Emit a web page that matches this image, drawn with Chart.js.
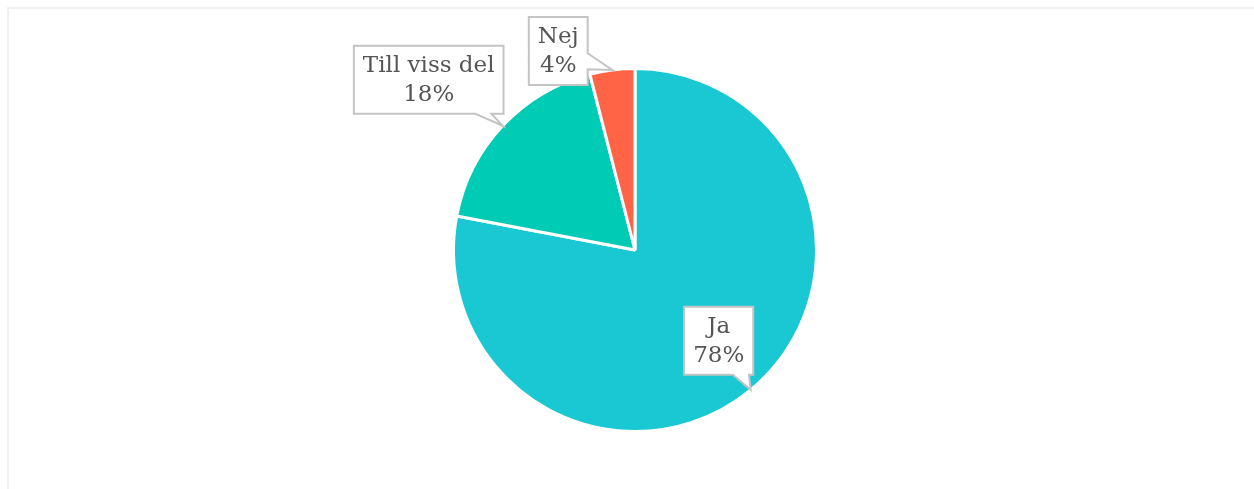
<!DOCTYPE html>
<html lang="sv">
<head>
  <meta charset="UTF-8">
  <title>Ja / Till viss del / Nej</title>
  <script src="https://cdn.jsdelivr.net/npm/chart.js"></script>
  <style>
    body { margin: 0; background: #fff; overflow: hidden; }
    #frame { position: absolute; left: 7px; top: 7px; width: 1400px; height: 700px; border: 2px solid #efefef; }
    #pieChart { position: absolute; left: 0; top: 0; }
  </style>
</head>
<body>

  <div id="frame"></div>
  <canvas id="pieChart" width="1254" height="489"></canvas>

  <script>
    // svar och andelar (%)
    const answers = ['Ja', 'Till viss del', 'Nej'];
    const shares = [78, 18, 4];
    const sliceColors = ['#1ac8d3', '#00ccb6', '#ff6446'];

    // var etiketten hamnar i förhållande till spetsen på bitens kant
    const calloutShift = [[-32, -49], [-74, -46], [-54, -19]];

    const calloutPlugin = {
      id: 'callouts',
      afterDatasetsDraw(chart) {
        const ctx = chart.ctx;
        const meta = chart.getDatasetMeta(0);
        ctx.save();
        ctx.font = '23px "DejaVu Serif"';
        meta.data.forEach((arc, i) => {
          const p = arc.getProps(['x', 'y', 'startAngle', 'endAngle', 'outerRadius'], true);
          const mid = (p.startAngle + p.endAngle) / 2;
          const tipX = p.x + Math.cos(mid) * p.outerRadius;
          const tipY = p.y + Math.sin(mid) * p.outerRadius;
          const cx = tipX + calloutShift[i][0];
          const cy = tipY + calloutShift[i][1];

          const lines = [chart.data.labels[i], chart.data.datasets[0].data[i] + '%'];
          const w = Math.max(...lines.map(t => ctx.measureText(t).width)) + 18;
          const h = 68;
          const l = cx - w / 2, r = cx + w / 2, t = cy - h / 2, b = cy + h / 2;

          // vilken kant pekaren går ut från
          const dx = tipX - cx, dy = tipY - cy;
          const tx = dx !== 0 ? (w / 2) / Math.abs(dx) : Infinity;
          const ty = dy !== 0 ? (h / 2) / Math.abs(dy) : Infinity;
          const half = 8;
          const pts = [[l, t]];
          if (ty <= tx && dy < 0) {
            const bx = Math.min(Math.max(cx + dx * ty, l + half + 2), r - half - 2);
            pts.push([bx - half, t], [tipX, tipY], [bx + half, t]);
          }
          pts.push([r, t]);
          if (tx < ty && dx > 0) {
            const by = Math.min(Math.max(cy + dy * tx, t + half + 2), b - half - 2);
            pts.push([r, by - half], [tipX, tipY], [r, by + half]);
          }
          pts.push([r, b]);
          if (ty <= tx && dy > 0) {
            const bx = Math.min(Math.max(cx + dx * ty, l + half + 2), r - half - 2);
            pts.push([bx + half, b], [tipX, tipY], [bx - half, b]);
          }
          pts.push([l, b]);
          if (tx < ty && dx < 0) {
            const by = Math.min(Math.max(cy + dy * tx, t + half + 2), b - half - 2);
            pts.push([l, by + half], [tipX, tipY], [l, by - half]);
          }

          ctx.beginPath();
          pts.forEach((pt, k) => k === 0 ? ctx.moveTo(pt[0], pt[1]) : ctx.lineTo(pt[0], pt[1]));
          ctx.closePath();
          ctx.fillStyle = '#ffffff';
          ctx.fill();
          ctx.lineWidth = 2;
          ctx.strokeStyle = '#c4c4c4';
          ctx.stroke();

          ctx.fillStyle = '#555555';
          ctx.textAlign = 'center';
          ctx.textBaseline = 'middle';
          ctx.fillText(lines[0], cx, cy - 14);
          ctx.fillText(lines[1], cx, cy + 15);
        });
        ctx.restore();
      }
    };

    new Chart(document.getElementById('pieChart'), {
      type: 'pie',
      data: {
        labels: answers,
        datasets: [{
          data: shares,
          backgroundColor: sliceColors,
          borderColor: '#ffffff',
          borderWidth: 3
        }]
      },
      options: {
        responsive: false,
        animation: false,
        layout: { padding: { left: 16, right: 0, top: 67, bottom: 56 } },
        plugins: {
          legend: { display: false },
          tooltip: { enabled: false }
        }
      },
      plugins: [calloutPlugin]
    });
  </script>

</body>
</html>
